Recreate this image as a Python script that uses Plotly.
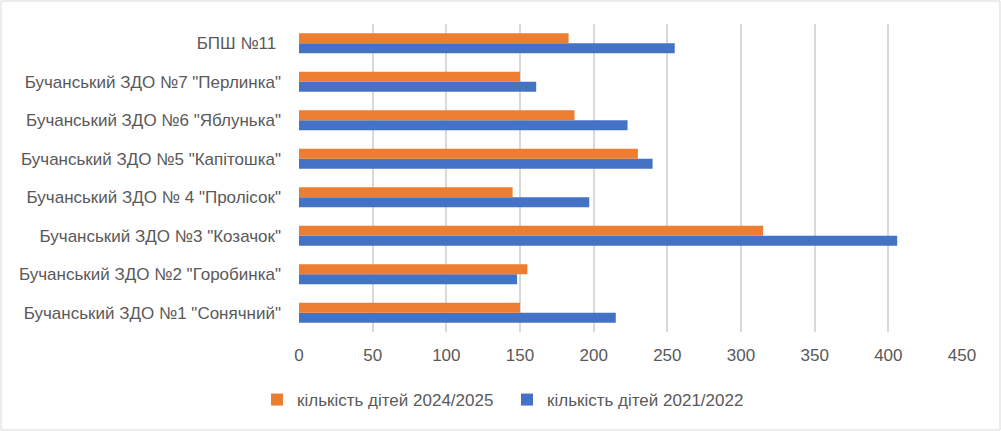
import plotly.graph_objects as go

# categories, bottom to top as in the source chart
CATEGORIES = ['Бучанський ЗДО №1 "Сонячний"',
              'Бучанський ЗДО №2 "Горобинка"',
              'Бучанський ЗДО №3 "Козачок"',
              'Бучанський ЗДО № 4 "Пролісок"',
              'Бучанський ЗДО №5 "Капітошка"',
              'Бучанський ЗДО №6 "Яблунька"',
              'Бучанський ЗДО №7 "Перлинка"',
              'БПШ №11 ']
KIDS_2021 = [215, 148, 406, 197, 240, 223, 161, 255]
KIDS_2024 = [150, 155, 315, 145, 230, 187, 150, 183]
X_TICKS = [0, 50, 100, 150, 200, 250, 300, 350, 400, 450]

BLUE = '#4472c4'
ORANGE = '#ed7d31'
GREY = '#595959'
FONT = 'Liberation Sans'
FSIZE = 17

ML, MR, MT, MB = 299, 39, 24, 99
W, H = 1001, 431
PW, PH = W - ML - MR, H - MT - MB

fig = go.Figure()
fig.add_trace(go.Bar(y=CATEGORIES, x=KIDS_2021, orientation='h',
                     name='кількість дітей 2021/2022',
                     marker=dict(color=BLUE, line=dict(width=0))))
fig.add_trace(go.Bar(y=CATEGORIES, x=KIDS_2024, orientation='h',
                     name='кількість дітей 2024/2025',
                     marker=dict(color=ORANGE, line=dict(width=0))))

fig.update_layout(
    width=W, height=H,
    margin=dict(l=ML, r=MR, t=MT, b=MB),
    paper_bgcolor='white', plot_bgcolor='white',
    barmode='group', bargap=0.48, bargroupgap=0,
    font=dict(family=FONT, size=FSIZE, color=GREY),
    showlegend=True,
    legend=dict(orientation='h', traceorder='reversed',
                x=(272 - ML - 15) / PW, xanchor='left',
                y=-68 / PH, yanchor='middle',
                font=dict(family=FONT, size=FSIZE, color=GREY),
                itemwidth=30, entrywidth=205),
    xaxis=dict(range=[0, 450], tickvals=X_TICKS, showgrid=True,
               gridcolor='#d9d9d9', gridwidth=1.5, zeroline=False,
               showline=False, ticks='', ticklabelstandoff=11,
               tickfont=dict(family=FONT, size=FSIZE, color=GREY),
               fixedrange=True),
    yaxis=dict(type='category', showgrid=False, zeroline=False,
               showline=False, ticks='', ticklabelstandoff=17,
               tickfont=dict(family=FONT, size=FSIZE, color=GREY),
               fixedrange=True),
    shapes=[dict(type='rect', xref='paper', yref='paper',
                 x0=-(ML - 1) / PW, x1=1 + (MR - 1) / PW,
                 y0=-(MB - 1) / PH, y1=1 + (MT - 1) / PH,
                 line=dict(color='#d9d9d9', width=1))],
)

fig.write_html("out.html", config={'displayModeBar': False},
               post_script="document.body.style.margin='0';")
